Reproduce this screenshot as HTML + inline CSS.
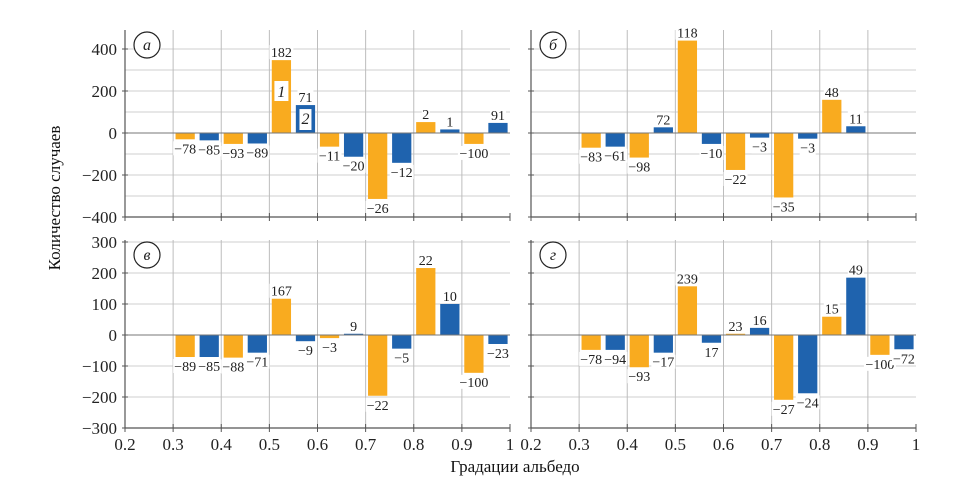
<!DOCTYPE html>
<html><head><meta charset="utf-8"><style>
body{margin:0;background:#fff}
svg{display:block;font-family:"Liberation Serif",serif}
</style></head><body>
<svg id="chart" width="967" height="494" viewBox="0 0 967 494" xmlns="http://www.w3.org/2000/svg">
<text transform="translate(60,198) rotate(-90)" text-anchor="middle" font-size="17" fill="#111">Количество случаев</text>
<text x="515" y="472" text-anchor="middle" font-size="17" fill="#111">Градации альбедо</text>
</svg>
<script>
const bins=[0.3,0.4,0.5,0.6,0.7,0.8,0.9];
const xTicks=[0.2,0.3,0.4,0.5,0.6,0.7,0.8,0.9,1];
const xTickLabels=["0.2","0.3","0.4","0.5","0.6","0.7","0.8","0.9","1"];
const yTicksTop=[-400,-200,0,200,400];
const yTicksBottom=[-300,-200,-100,0,100,200,300];
const aOrange=[-30,-52,347,-65,-314,52,-52];
const aBlue=[-35,-50,133,-113,-142,17,48];
const aOrangeLbl=["−78","−93","182","−11","−26","2","−100"];
const aBlueLbl=["−85","−89","71","−20","−12","1","91"];
const bOrange=[-70,-117,440,-176,-307,158,null];
const bBlue=[-65,27,-52,-22,-27,32,null];
const bOrangeLbl=["−83","−98","118","−22","−35","48",""];
const bBlueLbl=["−61","72","−10","−3","−3","11",""];
const cOrange=[-71,-73,117,-10,-196,216,-122];
const cBlue=[-71,-57,-20,4,-44,100,-29];
const cOrangeLbl=["−89","−88","167","−3","−22","22","−100"];
const cBlueLbl=["−85","−71","−9","9","−5","10","−23"];
const dOrange=[-48,-104,157,4,-209,59,-64];
const dBlue=[-48,-57,-25,23,-188,185,-46];
const dOrangeLbl=["−78","−93","239","23","−27","15","−100"];
const dBlueLbl=["−94","−17","17","16","−24","49","−72"];

const svg=document.getElementById('chart');
const NS='http://www.w3.org/2000/svg';
function mk(tag,attrs,parent){const e=document.createElementNS(NS,tag);for(const k in attrs)e.setAttribute(k,attrs[k]);(parent||svg).appendChild(e);return e;}

function panel(cfg){
  const g=mk('g',{});
  
  
  const X=v=>cfg.x0+(v-0.2)/0.8*(cfg.x1-cfg.x0);
  const Y=v=>cfg.yZero-(v/cfg.ymax)*(cfg.yZero-cfg.yTopVal);
  for(let v=-cfg.ymax+cfg.gstep;v<=cfg.ymax;v+=cfg.gstep){
    if(v===0)continue;
    const l=mk('line',{x1:X(0.2),x2:X(1),y1:Y(v),y2:Y(v),stroke:'#cfcfcf','stroke-width':1},g);
    
    
  }
  for(let i=1;i<xTicks.length-1;i++){
    const l=mk('line',{x1:X(xTicks[i]),x2:X(xTicks[i]),y1:cfg.top,y2:Y(-cfg.ymax),stroke:'#bdbdbd','stroke-width':1},g);
    
    
  }
  const drawBar=(vals,lbls,off,color,series)=>{
    vals.forEach((v,i)=>{
      if(v===null)return;
      const cx=X(bins[i]+off);
      const w=(X(0.24)-X(0.2));
      const y0=Y(0),y1=Y(v);
      const r=mk('rect',{x:cx-w/2,y:Math.min(y0,y1),width:w,height:Math.max(1.5,Math.abs(y1-y0)),fill:color},g);
      
      
      if(lbls[i]){
        const ty=v>=0?y1-3:y1+14;
        const bg=mk('rect',{x:cx-lbls[i].length*4,y:ty-12,width:lbls[i].length*8,height:14,fill:'#fff'},g);
        
        
        const t=mk('text',{x:cx,y:ty,'text-anchor':'middle','font-size':14,fill:'#222'},g);
        t.textContent=lbls[i];
        
        
      }
    });
  };
  drawBar(cfg.orange,cfg.oLbl,0.025,'#f9ab1f','orange');
  drawBar(cfg.blue,cfg.bLbl,0.075,'#1f63ae','blue');
  const z=mk('line',{x1:X(0.2),x2:X(1),y1:Y(0),y2:Y(0),stroke:'#777','stroke-width':1},g);
  
  
  const ya=mk('line',{x1:X(0.2),x2:X(0.2),y1:cfg.top,y2:Y(-cfg.ymax),stroke:'#555','stroke-width':1.2},g);
  
  
  const xa=mk('line',{x1:X(0.2),x2:X(1),y1:Y(-cfg.ymax),y2:Y(-cfg.ymax),stroke:'#555','stroke-width':1.2},g);
  
  
  xTicks.forEach((t,i)=>{
    const tk=mk('line',{x1:X(t),x2:X(t),y1:Y(-cfg.ymax)-4,y2:Y(-cfg.ymax)+4,stroke:'#555'},g);
    
    
    if(cfg.xlabels){
      const tx=mk('text',{x:X(t),y:Y(-cfg.ymax)+22,'text-anchor':'middle','font-size':17,fill:'#222'},g);
      tx.textContent=xTickLabels[i];
      
      
    }
  });
  cfg.yticks.forEach(v=>{
    const tk=mk('line',{x1:X(0.2)-3,x2:X(0.2)+3,y1:Y(v),y2:Y(v),stroke:'#555'},g);
    
    
    if(cfg.ylabels){
      const tx=mk('text',{x:X(0.2)-8,y:Y(v)+6,'text-anchor':'end','font-size':17,fill:'#222'},g);
      tx.textContent=(v<0?'−':'')+Math.abs(v);
      
      
    }
  });
  const c=mk('circle',{cx:X(0.2)+22,cy:cfg.top+15,r:13,fill:'#fff',stroke:'#222','stroke-width':1.2},g);
  
  
  const lt=mk('text',{x:X(0.2)+22,y:cfg.top+20,'text-anchor':'middle','font-size':16,'font-style':'italic',fill:'#222'},g);
  lt.textContent=cfg.letter;
  
  
  return {X,Y,g};
}
const pa=panel({id:'a',letter:'а',x0:125,x1:510,top:30,yZero:133,yTopVal:49,ymax:400,gstep:100,yticks:yTicksTop,ylabels:true,xlabels:false,orange:aOrange,blue:aBlue,oLbl:aOrangeLbl,bLbl:aBlueLbl});
panel({id:'b',letter:'б',x0:531,x1:916,top:30,yZero:133,yTopVal:49,ymax:400,gstep:100,yticks:yTicksTop,ylabels:false,xlabels:false,orange:bOrange,blue:bBlue,oLbl:bOrangeLbl,bLbl:bBlueLbl});
panel({id:'c',letter:'в',x0:125,x1:510,top:240,yZero:335,yTopVal:242,ymax:300,gstep:100,yticks:yTicksBottom,ylabels:true,xlabels:true,orange:cOrange,blue:cBlue,oLbl:cOrangeLbl,bLbl:cBlueLbl});
panel({id:'d',letter:'г',x0:531,x1:916,top:240,yZero:335,yTopVal:242,ymax:300,gstep:100,yticks:yTicksBottom,ylabels:false,xlabels:true,orange:dOrange,blue:dBlue,oLbl:dOrangeLbl,bLbl:dBlueLbl});
const l1=mk('rect',{x:pa.X(0.525)-7,y:81,width:14,height:20,fill:'#fff'});


const t1=mk('text',{x:pa.X(0.525),y:97,'text-anchor':'middle','font-size':16,'font-style':'italic',fill:'#222'});
t1.textContent='1';


const l2=mk('rect',{x:pa.X(0.575)-6,y:pa.Y(aBlue[2])+4,width:12,height:pa.Y(0)-pa.Y(aBlue[2])-7,fill:'#fff'});


const t2=mk('text',{x:pa.X(0.575),y:124,'text-anchor':'middle','font-size':16,'font-style':'italic',fill:'#222'});
t2.textContent='2';


</script>
</body></html>
